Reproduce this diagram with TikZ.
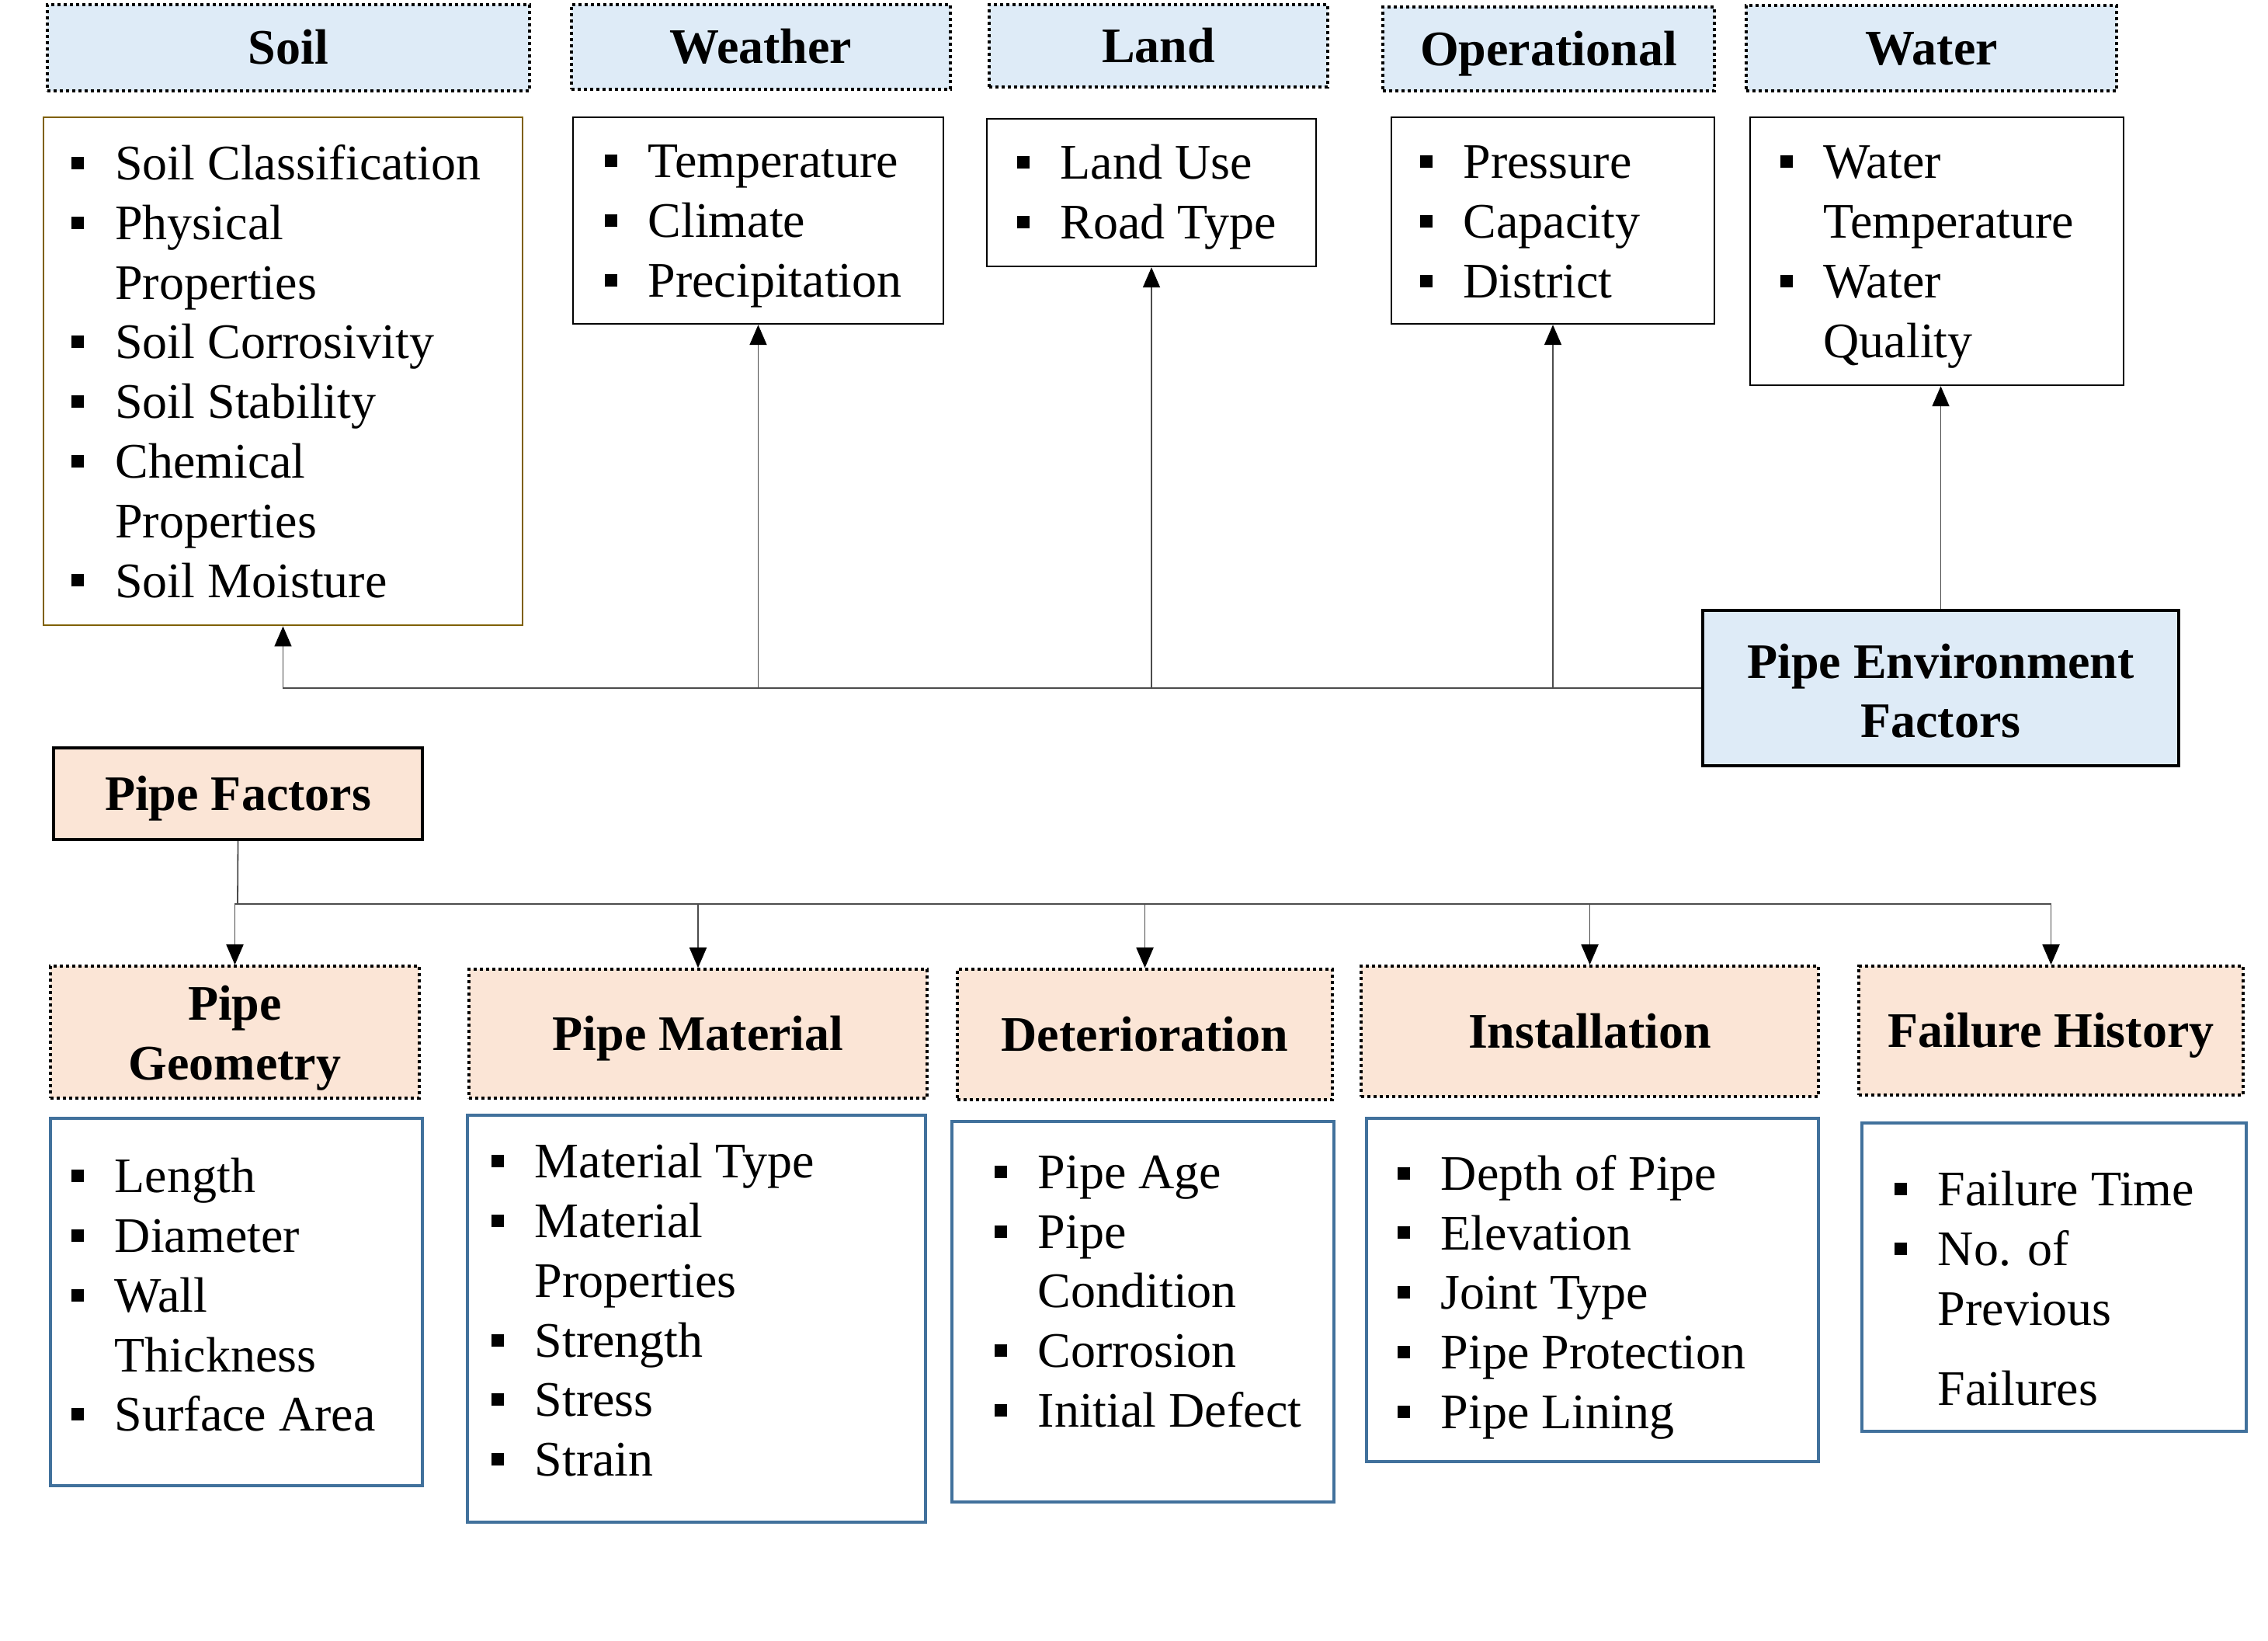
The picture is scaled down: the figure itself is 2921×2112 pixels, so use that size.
\documentclass[tikz,border=0pt]{standalone}
\usepackage{fontspec}
\setmainfont{Liberation Serif}
\usetikzlibrary{arrows.meta,fit}
\definecolor{hblue}{HTML}{DEEBF7}
\definecolor{hpeach}{HTML}{FBE5D6}
\definecolor{soilbrd}{HTML}{7F6000}
\definecolor{lblue}{HTML}{41719C}
\newcommand{\bul}{\makebox[14pt][l]{\rule[3.4pt]{4pt}{4pt}}}
\newcommand{\ind}{\hspace*{14pt}}
\tikzset{
  base/.style={inner sep=0pt, rectangle},
  txt/.style={font=\fontsize{16}{19.2}\selectfont},
  hdrblue/.style={base, draw=black, line width=0.9pt, dash pattern=on 1.1pt off 0.9pt, fill=hblue},
  hdrpeach/.style={base, draw=black, line width=0.9pt, dash pattern=on 1.1pt off 0.9pt, fill=hpeach},
  mainbox/.style={base, draw=black, line width=1.1pt},
  htxt/.style={inner sep=0pt, font=\fontsize{16}{19.2}\selectfont\bfseries, align=center},
  htxtone/.style={htxt, text height=10.6pt, text depth=0pt},
  lstblack/.style={base, draw=black, line width=0.6pt},
  lstsoil/.style={base, draw=soilbrd, line width=0.7pt},
  lstblue/.style={base, draw=lblue, line width=1pt},
  items/.style={txt, inner sep=0pt, align=left, anchor=west},
  conn/.style={draw=black!70, line width=0.45pt},
  arr/.style={conn, -{Triangle[width=5.5pt,length=6.5pt,color=black]}}
}
\begin{document}
\begin{tikzpicture}[x=0.25pt,y=-0.25pt]
\useasboundingbox (0,0) rectangle (2921,2112);

% ---- Top headers
\node[hdrblue, fit={(61,6)(682,117)}] (soilH) {};
\node[htxtone] (soilHt) at (soilH.center) {Soil};
\node[hdrblue, fit={(736,6)(1224,115)}] (weaH) {};
\node[htxtone] (weaHt) at (weaH.center) {Weather};
\node[hdrblue, fit={(1274,6)(1710,112)}] (landH) {};
\node[htxtone] (landHt) at (landH.center) {Land};
\node[hdrblue, fit={(1781,9)(2208,117)}] (opH) {};
\node[htxtone] (opHt) at (opH.center) {Operational};
\node[hdrblue, fit={(2249,7)(2726,117)}] (watH) {};
\node[htxtone] (watHt) at (watH.center) {Water};

% ---- Top lists
\node[lstsoil, fit={(56,151)(673,805)}] (soilL) {};
\node[items] (soilT) at ([xshift=9.25pt]soilL.west) {\bul Soil Classification\\ \bul Physical\\ \ind Properties\\ \bul Soil Corrosivity\\ \bul Soil Stability\\ \bul Chemical\\ \ind Properties\\ \bul Soil Moisture};
\node[lstblack, fit={(738,151)(1215,417)}] (weaL) {};
\node[items] (weaT) at ([xshift=10.25pt,yshift=-1.9pt]weaL.west) {\bul Temperature\\ \bul Climate\\ \bul Precipitation};
\node[lstblack, fit={(1271,153)(1695,343)}] (landL) {};
\node[items] (landT) at ([xshift=9.75pt,yshift=-1.4pt]landL.west) {\bul Land Use\\ \bul Road Type};
\node[lstblack, fit={(1792,151)(2208,417)}] (opL) {};
\node[items] (opT) at ([xshift=9.25pt,yshift=-0.5pt]opL.west) {\bul Pressure\\ \bul Capacity\\ \bul District};
\node[lstblack, fit={(2254,151)(2735,496)}] (watL) {};
\node[items] (watT) at ([xshift=9.75pt,yshift=-1.9pt]watL.west) {\bul Water\\ \ind Temperature\\ \bul Water\\ \ind Quality};

% ---- Main boxes
\node[mainbox, fill=hblue, fit={(2193,786)(2806,986)}] (pef) {};
\node[htxt] (peft) at ([yshift=-0.9pt]pef.center) {Pipe Environment\\ Factors};
\node[mainbox, fill=hpeach, fit={(69,963)(544,1081)}] (pf) {};
\node[htxtone] (pft) at (pf.center) {Pipe Factors};

% ---- Bottom headers
\node[hdrpeach, fit={(65,1244)(540,1414)}] (geoH) {};
\node[htxt] (geoHt) at ([yshift=-1.9pt]geoH.center) {Pipe\\ Geometry};
\node[hdrpeach, fit={(604,1248)(1194,1414)}] (matH) {};
\node[htxtone] (matHt) at (matH.center) {Pipe Material};
\node[hdrpeach, fit={(1233,1248)(1716,1416)}] (detH) {};
\node[htxtone] (detHt) at (detH.center) {Deterioration};
\node[hdrpeach, fit={(1753,1244)(2342,1412)}] (insH) {};
\node[htxtone] (insHt) at (insH.center) {Installation};
\node[hdrpeach, fit={(2394,1244)(2889,1410)}] (failH) {};
\node[htxtone] (failHt) at (failH.center) {Failure History};

% ---- Bottom lists
\node[lstblue, fit={(65,1440)(544,1913)}] (geoL) {};
\node[items] (geoT) at ([xshift=7pt,yshift=2.3pt]geoL.west) {\bul Length\\ \bul Diameter\\ \bul Wall\\ \ind Thickness\\ \bul Surface Area};
\node[lstblue, fit={(602,1436)(1192,1960)}] (matL) {};
\node[items] (matT) at ([xshift=8pt,yshift=2.8pt]matL.west) {\bul Material Type\\ \bul Material\\ \ind Properties\\ \bul Strength\\ \bul Stress\\ \bul Strain};
\node[lstblue, fit={(1226,1444)(1718,1934)}] (detL) {};
\node[items] (detT) at ([xshift=14pt,yshift=6.5pt]detL.west) {\bul Pipe Age\\ \bul Pipe\\ \ind Condition\\ \bul Corrosion\\ \bul Initial Defect};
\node[lstblue, fit={(1760,1440)(2342,1882)}] (insL) {};
\node[items] (insT) at ([xshift=10.25pt,yshift=-2.3pt]insL.west) {\bul Depth of Pipe\\ \bul Elevation\\ \bul Joint Type\\ \bul Pipe Protection\\ \bul Pipe Lining};
\node[lstblue, fit={(2398,1446)(2893,1843)}] (failL) {};
\node[items] (failT) at ([xshift=10.75pt,yshift=-3.6pt]failL.west) {\bul Failure Time\\ \bul No. of\\ \ind Previous\\[6.5pt] \ind Failures};

% ---- Connectors: environment
\draw[arr] (pef.west) -| (soilL.south);
\draw[arr] (pef.west) -| (weaL.south);
\draw[arr] (pef.west) -| (landL.south);
\draw[arr] (pef.west) -| (opL.south);
\draw[arr] (pef.north) -- (pef.north |- watL.south);

% ---- Connectors: pipe factors
\coordinate (pfj) at (306,1164);
\draw[conn] (pf.south) -- (pfj);
\draw[arr] (pfj) -| (geoH.north);
\draw[arr] (pfj) -| (matH.north);
\draw[arr] (pfj) -| (detH.north);
\draw[arr] (pfj) -| (insH.north);
\draw[arr] (pfj) -| (failH.north);
\end{tikzpicture}
\end{document}
